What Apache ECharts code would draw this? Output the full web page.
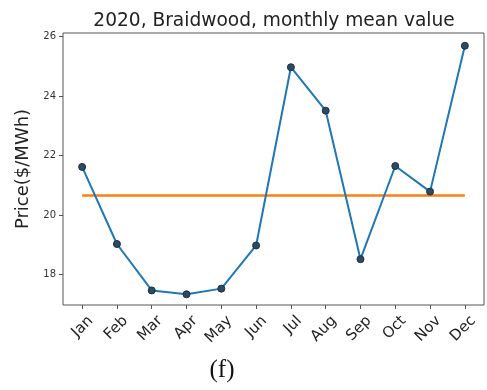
<!DOCTYPE html>
<html>
<head>
<meta charset="utf-8">
<script src="https://cdn.jsdelivr.net/npm/echarts@6/dist/echarts.min.js"></script>
<style>
  html, body { margin: 0; padding: 0; background: #fff; }
  #chart { width: 487px; height: 390px; }
</style>
</head>
<body>
<div id="chart"></div>
<script>
// Monthly mean electricity price at Braidwood, 2020
const months = ['Jan', 'Feb', 'Mar', 'Apr', 'May', 'Jun', 'Jul', 'Aug', 'Sep', 'Oct', 'Nov', 'Dec'];
const monthlyMean = [21.62, 19.03, 17.47, 17.34, 17.53, 18.98, 24.97, 23.51, 18.52, 21.65, 20.79, 25.69];
const annualMean = [20.66, 20.66, 20.66, 20.66, 20.66, 20.66, 20.66, 20.66, 20.66, 20.66, 20.66, 20.66];
const yTicks = [18, 20, 22, 24, 26];

const idx = months.map((m, i) => i);
const chart = echarts.init(document.getElementById('chart'), null, { renderer: 'canvas' });

chart.setOption({
  backgroundColor: '#ffffff',
  animation: false,
  title: [
    {
      text: '2020, Braidwood, monthly mean value',
      left: 269, top: 7, textAlign: 'center',
      textStyle: { fontFamily: 'DejaVu Sans', fontSize: 18.6, fontWeight: 'normal', color: '#222' }
    },
    {
      text: '(f)',
      left: 217, top: 353, textAlign: 'center',
      textStyle: { fontFamily: 'Liberation Serif', fontSize: 25, fontWeight: 'normal', color: '#111' }
    }
  ],
  grid: {
    left: 63, top: 33, width: 421, height: 272,
    show: true, borderColor: '#555', borderWidth: 1, backgroundColor: 'transparent'
  },
  xAxis: {
    type: 'value',
    min: -0.55, max: 11.55,
    splitLine: { show: false },
    axisLine: { show: false, onZero: false },
    axisTick: { show: true, customValues: idx, length: 4, lineStyle: { color: '#555' } },
    axisLabel: {
      customValues: idx,
      rotate: 45,
      margin: 5,
      verticalAlign: 'top',
      lineHeight: 24,
      fontFamily: 'DejaVu Sans', fontSize: 15, color: '#222',
      formatter: v => months[Math.round(v)]
    }
  },
  yAxis: {
    type: 'value',
    min: 16.98, max: 26.12,
    name: 'Price($/MWh)',
    nameLocation: 'middle',
    nameGap: 31,
    nameTextStyle: { fontFamily: 'DejaVu Sans', fontSize: 18, color: '#222' },
    splitLine: { show: false },
    axisLine: { show: false, onZero: false },
    axisTick: { show: true, customValues: yTicks, length: 4, lineStyle: { color: '#555' } },
    axisLabel: { customValues: yTicks, fontFamily: 'DejaVu Sans', fontSize: 10, color: '#333', margin: 7 }
  },
  series: [
    {
      type: 'line',
      data: annualMean.map((v, i) => [i, v]),
      symbol: 'none',
      lineStyle: { color: '#ff7f0e', width: 2.5 },
      z: 2
    },
    {
      type: 'line',
      data: monthlyMean.map((v, i) => [i, v]),
      symbol: 'circle',
      symbolSize: 7,
      lineStyle: { color: '#1f77b4', width: 2 },
      itemStyle: { color: '#2b4a66', borderColor: '#1c2f44', borderWidth: 1 },
      z: 3
    }
  ]
});
</script>
</body>
</html>
